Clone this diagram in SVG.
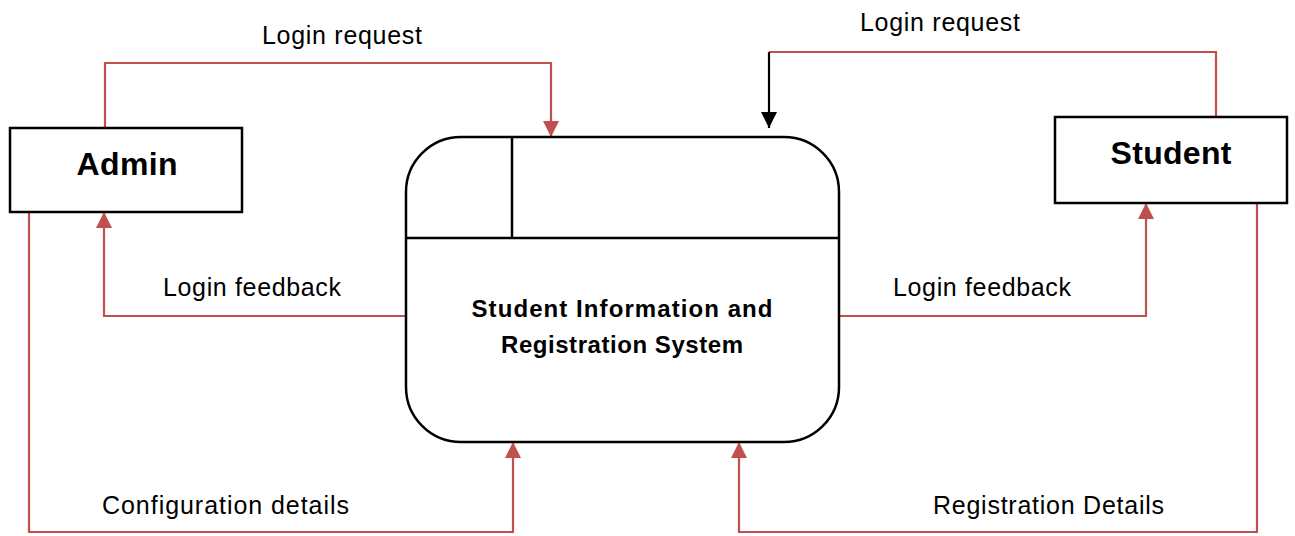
<svg xmlns="http://www.w3.org/2000/svg" width="1295" height="536" viewBox="0 0 1295 536">
<style>
.box{fill:#fff;stroke:#000;stroke-width:2.5}
.flow{fill:none;stroke:#C0504D;stroke-width:2.2}
.blk{fill:none;stroke:#000;stroke-width:2.2}
.lbl{font-family:"Liberation Sans",Arial,sans-serif;font-size:25px;fill:#000}
.ent{font-family:"Liberation Sans",Arial,sans-serif;font-size:32px;font-weight:bold;fill:#000;text-anchor:middle}
.proc{font-family:"Liberation Sans",Arial,sans-serif;font-size:24px;font-weight:bold;fill:#000;text-anchor:middle}
</style>
<defs>
<marker id="ar" markerWidth="16" markerHeight="16" refX="16" refY="8" orient="auto" markerUnits="userSpaceOnUse">
<path d="M0,0 L16,8 L0,16 Z" fill="#C0504D"/>
</marker>
<marker id="ab" markerWidth="16" markerHeight="16" refX="16" refY="8" orient="auto" markerUnits="userSpaceOnUse">
<path d="M0,0 L16,8 L0,16 Z" fill="#000"/>
</marker>
</defs>
<g id="connectors">
<path class="flow" d="M105,128 V63 H551 V137" marker-end="url(#ar)"/>
<path class="flow" d="M406,316 H104 V212" marker-end="url(#ar)"/>
<path class="flow" d="M29,212 V532 H513 V442" marker-end="url(#ar)"/>
<path class="flow" d="M1216,117 V52 H769"/>
<path class="blk" d="M769,52 V128" marker-end="url(#ab)"/>
<path class="flow" d="M839,316 H1146 V203" marker-end="url(#ar)"/>
<path class="flow" d="M1257,203 V532 H739 V442" marker-end="url(#ar)"/>
<text class="lbl" x="262" y="44" textLength="160">Login request</text>
<text class="lbl" x="860" y="31" textLength="160">Login request</text>
<text class="lbl" x="163" y="296" textLength="178">Login feedback</text>
<text class="lbl" x="893" y="296" textLength="178">Login feedback</text>
<text class="lbl" x="102" y="514" textLength="247">Configuration details</text>
<text class="lbl" x="933" y="514" textLength="231">Registration Details</text>
</g>
<g id="admin">
<rect class="box" x="10" y="128" width="232" height="84"/>
<text class="ent" x="127" y="175" textLength="101">Admin</text>
</g>
<g id="student">
<rect class="box" x="1055" y="117" width="232" height="86"/>
<text class="ent" x="1171" y="164" textLength="121">Student</text>
</g>
<g id="system">
<rect class="box" x="406" y="137" width="433" height="305" rx="55" ry="55"/>
<line x1="406" y1="238" x2="839" y2="238" stroke="#000" stroke-width="2.5"/>
<line x1="512" y1="137" x2="512" y2="238" stroke="#000" stroke-width="2.5"/>
<text class="proc" x="622" y="317" textLength="301">Student Information and</text>
<text class="proc" x="622" y="353" textLength="242">Registration System</text>
</g>
</svg>
